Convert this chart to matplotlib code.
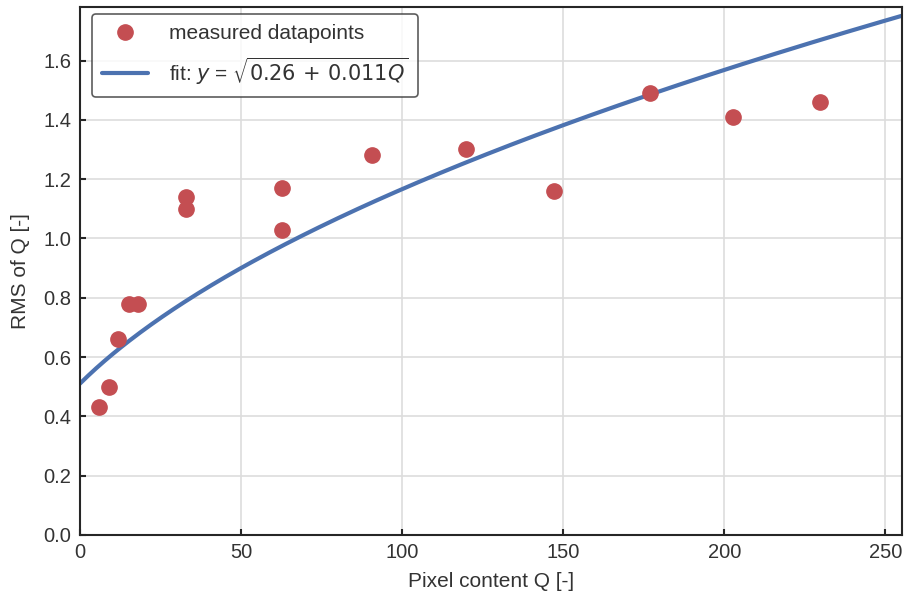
import numpy as np
import matplotlib
matplotlib.use("Agg")
import matplotlib.pyplot as plt
import seaborn as sns

# pixel content and RMS of the measured frames
pixel_content = [5.9, 9.0, 11.8, 15.2, 18.0, 32.9, 32.9, 62.7, 62.7,
                 90.7, 119.9, 147.2, 177.0, 202.8, 229.8]
rms_values = [0.43, 0.50, 0.66, 0.78, 0.78, 1.14, 1.10, 1.17, 1.03,
              1.28, 1.30, 1.16, 1.49, 1.41, 1.46]

# fit parameters of y = sqrt(a + b*Q)
fit_a = 0.26
fit_b = 0.011

sns.set_theme(style="ticks")
plt.rcParams['font.family'] = ['Liberation Sans', 'DejaVu Sans']
plt.rcParams['mathtext.fontset'] = 'dejavusans'

fig = plt.figure(figsize=(9.07, 5.99), dpi=100)
ax = fig.add_axes([0.088, 0.107, 0.906, 0.881])

deep = sns.color_palette("deep")
ax.plot(pixel_content, rms_values, 'o', color=deep[3], markersize=11,
        label='measured datapoints', zorder=3)

q = np.linspace(0, 255, 300)
ax.plot(q, np.sqrt(fit_a + fit_b * q), color=deep[0], lw=3,
        label=r'fit: $y$ = $\sqrt{%.2f\,+\,%.3fQ}$' % (fit_a, fit_b), zorder=2)

ax.set_xlim(0, 255)
ax.set_ylim(0, 1.78)
ax.set_xticks([0, 50, 100, 150, 200, 250])
ax.set_yticks(np.arange(0, 1.61, 0.2))
ax.grid(True, color='#dddddd', lw=1.2)
ax.tick_params(direction='in', length=4, width=1.5, labelsize=14.5, color='#262626',
               labelcolor='#333333', pad=6)
for s in ax.spines.values():
    s.set_linewidth(1.5)
    s.set_color('#262626')

ax.set_xlabel('Pixel content Q [-]', fontsize=15, labelpad=7, color='#333333')
ax.set_ylabel('RMS of Q [-]', fontsize=15, labelpad=10, color='#333333')

leg = ax.legend(loc='upper left', fontsize=15, frameon=True, borderpad=0.5,
                handlelength=2.2, labelspacing=0.6, handletextpad=1.0,
                borderaxespad=0, bbox_to_anchor=(0.0146, 0.988))
leg.get_frame().set_edgecolor('#333333')
leg.get_frame().set_linewidth(1.2)
for t in leg.get_texts():
    t.set_color('#333333')

fig.savefig('out.png', dpi=100)
